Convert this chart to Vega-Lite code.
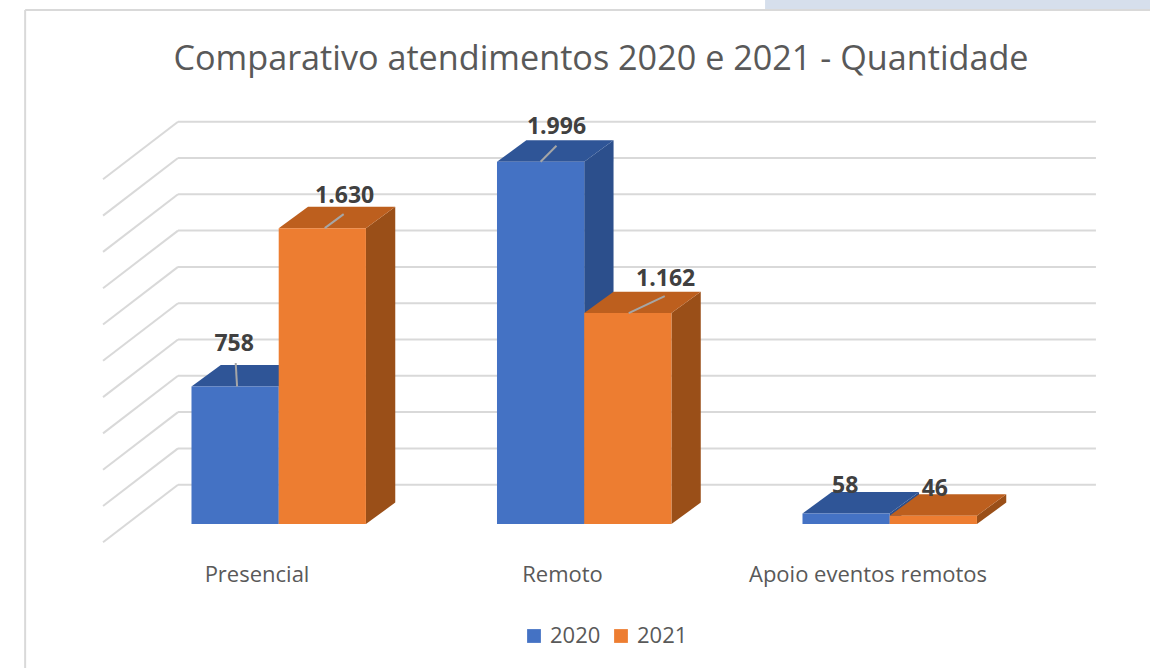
{
"$schema":"https://vega.github.io/schema/vega-lite/v6.json",
"width":1150,"height":668,"padding":0,"autosize":{"type":"none"},"background":"white",
"title":{"text":"Comparativo atendimentos 2020 e 2021 - Quantidade","font":"Open Sans","fontSize":34.2,"fontWeight":"normal","color":"#595959","anchor":"middle","frame":"group","dx":26,"dy":104,"offset":0,"baseline":"alphabetic"},
"config":{"view":{"stroke":null},"locale":{"number":{"decimal":",","thousands":".","grouping":[3],"currency":["R$",""]}}},
"datasets":{
"atend":[
{"categoria":"Presencial","ano":2020,"valor":758},
{"categoria":"Presencial","ano":2021,"valor":1630},
{"categoria":"Remoto","ano":2020,"valor":1996},
{"categoria":"Remoto","ano":2021,"valor":1162},
{"categoria":"Apoio eventos remotos","ano":2020,"valor":58},
{"categoria":"Apoio eventos remotos","ano":2021,"valor":46}],
"grade":[{"marca":0},{"marca":200},{"marca":400},{"marca":600},{"marca":800},{"marca":1000},{"marca":1200},{"marca":1400},{"marca":1600},{"marca":1800},{"marca":2000}],
"moldura":[{"parte":"moldura"}]
},
"data":{"name":"atend"},
"transform":[
{"calculate":"indexof(['Presencial','Remoto','Apoio eventos remotos'],datum.categoria)","as":"idx"},
{"calculate":"datum.idx+(datum.ano==2020?-0.2855:0)","as":"esq"},
{"calculate":"datum.esq+0.2855","as":"dir"},
{"calculate":"datum.idx+'-'+datum.ano","as":"chave"}
],
"encoding":{
"x":{"field":"x","type":"quantitative","axis":null,"scale":{"domain":[-0.9123,2.852],"nice":false,"zero":false}},
"y":{"field":"y","type":"quantitative","axis":null,"scale":{"domain":[-793.4,2887],"nice":false,"zero":false}}
},
"layer":[
{"data":{"name":"moldura"},
 "transform":[{"calculate":"1.592","as":"x"},{"calculate":"2.852","as":"xf"},{"calculate":"2887","as":"y"},{"calculate":"2837","as":"yf"}],
 "mark":{"type":"rect","color":"#D6DFEC"},
 "encoding":{"x2":{"field":"xf"},"y2":{"field":"yf"}}},
{"data":{"name":"moldura"},
 "transform":[{"calculate":"-0.83","as":"x"},{"calculate":"2.852","as":"xf"},{"calculate":"2832","as":"y"}],
 "mark":{"type":"rule","color":"#D9D9D9","strokeWidth":2},
 "encoding":{"x2":{"field":"xf"}}},
{"data":{"name":"moldura"},
 "transform":[{"calculate":"-0.83","as":"x"},{"calculate":"2832","as":"y"},{"calculate":"-793.4","as":"yf"}],
 "mark":{"type":"rule","color":"#D9D9D9","strokeWidth":2},
 "encoding":{"y2":{"field":"yf"}}},
{"data":{"name":"grade"},
 "transform":[{"calculate":"-0.3296","as":"x"},{"calculate":"2.675","as":"xf"},{"calculate":"datum.marca+216.5","as":"y"}],
 "mark":{"type":"rule","color":"#D9D9D9","strokeWidth":2},
 "encoding":{"x2":{"field":"xf"}}},
{"data":{"name":"grade"},
 "transform":[{"calculate":"-0.3296","as":"x"},{"calculate":"-0.575","as":"xf"},{"calculate":"datum.marca+216.5","as":"y"},{"calculate":"datum.marca-100.8","as":"yf"}],
 "mark":{"type":"rule","color":"#D9D9D9","strokeWidth":2},
 "encoding":{"x2":{"field":"xf"},"y2":{"field":"yf"}}},
{"transform":[{"calculate":"[0,1]","as":"t"},{"flatten":["t"]},
 {"calculate":"datum.dir+datum.t*0.096","as":"x"},{"calculate":"datum.valor+datum.t*118","as":"y"},{"calculate":"datum.t*118","as":"yb"}],
 "mark":{"type":"area","orient":"vertical"},
 "encoding":{"y2":{"field":"yb"},"detail":{"field":"chave"},
 "color":{"condition":{"test":"datum.ano==2020","value":"#2C4F8C"},"value":"#9A4F18"}}},
{"transform":[{"calculate":"[0,1]","as":"t"},{"flatten":["t"]},
 {"calculate":"datum.esq+datum.t*0.096","as":"x"},{"calculate":"datum.dir+datum.t*0.096","as":"xd"},{"calculate":"datum.valor+datum.t*118","as":"y"}],
 "mark":{"type":"area","orient":"horizontal"},
 "encoding":{"x2":{"field":"xd"},"detail":{"field":"chave"},
 "color":{"condition":{"test":"datum.ano==2020","value":"#2F5597"},"value":"#BD5F1E"}}},
{"transform":[{"calculate":"datum.esq","as":"x"},{"calculate":"datum.valor","as":"y"},{"calculate":"0","as":"yb"}],
 "mark":{"type":"rect"},
 "encoding":{"x2":{"field":"dir"},"y2":{"field":"yb"},
 "color":{"field":"ano","type":"nominal","scale":{"domain":[2020,2021],"range":["#4472C4","#ED7D31"]},
 "legend":{"title":null,"orient":"none","legendX":523,"legendY":625,"direction":"horizontal","columns":2,"symbolType":"square","symbolSize":190,"labelFont":"Open Sans","labelFontSize":22,"labelColor":"#595959","columnPadding":9,"labelOffset":5}}}},
{"transform":[{"filter":"datum.valor>100"},
 {"calculate":"{'0-2020':[0.0065,0.002,129],'0-2021':[0.008,0.07,77],'1-2020':[0,0.052,88],'1-2021':[0.003,0.121,94]}[datum.chave]","as":"g"},
 {"calculate":"datum.esq+0.1427+datum.g[0]","as":"x"},{"calculate":"datum.esq+0.1427+datum.g[1]","as":"xf"},{"calculate":"datum.valor","as":"y"},{"calculate":"datum.valor+datum.g[2]","as":"yf"}],
 "mark":{"type":"rule","color":"#A6A6A6","strokeWidth":2},
 "encoding":{"x2":{"field":"xf"},"y2":{"field":"yf"}}},
{"transform":[
 {"calculate":"{'0-2020':[-0.003,234],'0-2021':[0.073,176],'1-2020':[0.052,192],'1-2021':[0.124,187],'2-2020':[-0.003,152],'2-2021':[0.005,147]}[datum.chave]","as":"g"},
 {"calculate":"datum.esq+0.1427+datum.g[0]","as":"x"},{"calculate":"datum.valor+datum.g[1]","as":"y"}],
 "mark":{"type":"text","font":"Open Sans","fontSize":23,"fontWeight":"bold","color":"#404040","align":"center","baseline":"middle"},
 "encoding":{"text":{"field":"valor","type":"quantitative","format":",d"}}},
{"transform":[{"filter":"datum.ano==2020"},{"calculate":"datum.idx-0.071","as":"x"},{"calculate":"-320","as":"y"}],
 "mark":{"type":"text","font":"Open Sans","fontSize":22,"color":"#595959","align":"center","baseline":"alphabetic"},
 "encoding":{"text":{"field":"categoria","type":"nominal"}}}
]
}
